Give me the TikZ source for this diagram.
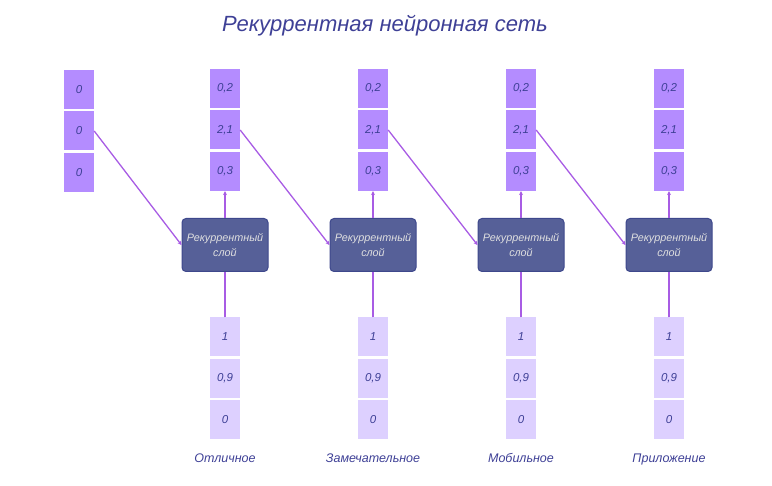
\documentclass[tikz,border=0pt]{standalone}
\usepackage{fontspec}
\setmainfont{Liberation Sans}
\usepackage{xcolor}
\usetikzlibrary{positioning,arrows.meta}
\definecolor{cellout}{RGB}{180,140,255}
\definecolor{cellin}{RGB}{221,208,255}
\definecolor{layerfill}{RGB}{86,96,152}
\definecolor{layeredge}{RGB}{62,72,140}
\definecolor{linkcol}{RGB}{168,92,228}
\definecolor{inktext}{RGB}{62,64,150}
\tikzset{
  outcell/.style={fill=cellout, minimum width=30pt, minimum height=39pt, inner sep=0pt,
    text=inktext, font=\itshape\fontsize{11.5}{13}\selectfont},
  incell/.style={outcell, fill=cellin},
  layer/.style={draw=layeredge, fill=layerfill, line width=1pt, rounded corners=4pt,
    minimum width=86pt, minimum height=53pt, align=center, text=white!88!black,
    font=\itshape\fontsize{10.8}{15}\selectfont},
  word/.style={anchor=base, text=inktext, font=\itshape\fontsize{12.5}{14}\selectfont},
  link/.style={color=linkcol, line width=1.3pt, -{Stealth[length=4pt,width=4pt]}},
  feed/.style={color=linkcol, line width=1.3pt}
}
\begin{document}
\begin{tikzpicture}[x=1pt,y=-1pt]
    \useasboundingbox (0,0) rectangle (772,486);
    \node[text=inktext, font=\itshape\fontsize{22}{24}\selectfont] (title) at (385,26) {Рекуррентная нейронная сеть};
    % Initial state
    \node[outcell] (h0b) at (79,131) {0};
    \node[outcell, above=2pt of h0b] (h0a) {0};
    \node[outcell, below=2pt of h0b] (h0c) {0};
    % Step 1
    \begin{scope}[xshift=225pt]
    \node[outcell] (o1b) at (0,130) {2,1};
    \node[outcell, above=2pt of o1b] (o1a) {0,2};
    \node[outcell, below=2pt of o1b] (o1c) {0,3};
    \node[layer] (l1) at (0,245) {Рекуррентный\\слой};
    \node[incell] (i1a) at (0,337) {1};
    \node[incell, below=2pt of i1a] (i1b) {0,9};
    \node[incell, below=2pt of i1b] (i1c) {0};
    \node[word] (w1) at (0,463) {Отличное};
    \end{scope}
    % Step 2
    \begin{scope}[xshift=373pt]
    \node[outcell] (o2b) at (0,130) {2,1};
    \node[outcell, above=2pt of o2b] (o2a) {0,2};
    \node[outcell, below=2pt of o2b] (o2c) {0,3};
    \node[layer] (l2) at (0,245) {Рекуррентный\\слой};
    \node[incell] (i2a) at (0,337) {1};
    \node[incell, below=2pt of i2a] (i2b) {0,9};
    \node[incell, below=2pt of i2b] (i2c) {0};
    \node[word] (w2) at (0,463) {Замечательное};
    \end{scope}
    % Step 3
    \begin{scope}[xshift=521pt]
    \node[outcell] (o3b) at (0,130) {2,1};
    \node[outcell, above=2pt of o3b] (o3a) {0,2};
    \node[outcell, below=2pt of o3b] (o3c) {0,3};
    \node[layer] (l3) at (0,245) {Рекуррентный\\слой};
    \node[incell] (i3a) at (0,337) {1};
    \node[incell, below=2pt of i3a] (i3b) {0,9};
    \node[incell, below=2pt of i3b] (i3c) {0};
    \node[word] (w3) at (0,463) {Мобильное};
    \end{scope}
    % Step 4
    \begin{scope}[xshift=669pt]
    \node[outcell] (o4b) at (0,130) {2,1};
    \node[outcell, above=2pt of o4b] (o4a) {0,2};
    \node[outcell, below=2pt of o4b] (o4c) {0,3};
    \node[layer] (l4) at (0,245) {Рекуррентный\\слой};
    \node[incell] (i4a) at (0,337) {1};
    \node[incell, below=2pt of i4a] (i4b) {0,9};
    \node[incell, below=2pt of i4b] (i4c) {0};
    \node[word] (w4) at (0,463) {Приложение};
    \end{scope}
    % Links
    \draw[link] (h0b.east) -- (l1.west);
    \draw[link] (o1b.east) -- (l2.west);
    \draw[link] (o2b.east) -- (l3.west);
    \draw[link] (o3b.east) -- (l4.west);
    \draw[link] (l1) -- (o1c);
    \draw[link] (l2) -- (o2c);
    \draw[link] (l3) -- (o3c);
    \draw[link] (l4) -- (o4c);
    \draw[feed] (i1a) -- (l1);
    \draw[feed] (i2a) -- (l2);
    \draw[feed] (i3a) -- (l3);
    \draw[feed] (i4a) -- (l4);
\end{tikzpicture}
\end{document}
